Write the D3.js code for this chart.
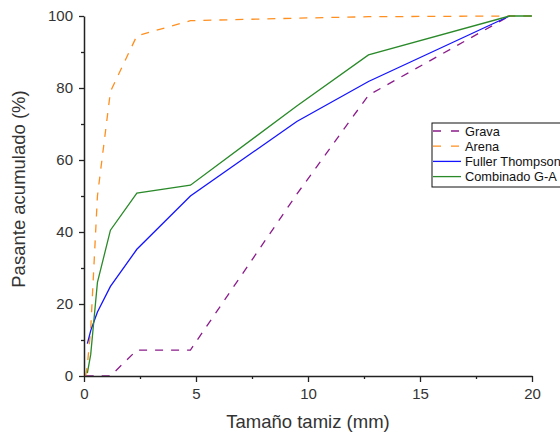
<!DOCTYPE html>
<html>
<head>
<meta charset="utf-8">
<script src="https://cdn.jsdelivr.net/npm/d3@7"></script>
<style>
  html, body { margin: 0; padding: 0; background: #fff; }
  svg { display: block; font-family: "Liberation Sans", Arial, sans-serif; }
</style>
</head>
<body>
<svg id="chart" width="560" height="434"></svg>
<script>
// ---- data ----
const seriesNames = ["Grava", "Arena", "Fuller Thompson", "Combinado G-A"];
const gravaX   = [0.075, 0.15, 0.3, 0.6, 1.18, 2.36, 4.75, 9.5, 12.7, 19];
const gravaY   = [0, 0, 0, 0, 0, 7.2, 7.2, 50.5, 78, 100];
const arenaX   = [0.075, 0.15, 0.3, 0.6, 1.18, 2.36, 4.75, 9.5, 12.7, 19, 20];
const arenaY   = [0, 3, 13, 50, 79, 94.5, 98.7, 99.4, 99.8, 100, 100];
const fullerX  = [0.15, 0.3, 0.6, 1.18, 2.36, 4.75, 9.5, 12.7, 19];
const fullerY  = [9, 12.6, 17.8, 24.9, 35.2, 50, 70.7, 81.8, 100];
const combX    = [0.15, 0.3, 0.6, 1.18, 2.36, 4.75, 9.5, 12.7, 19, 20];
const combY    = [0.8, 6, 26, 40.5, 50.8, 53, 75, 89.2, 100, 100];
const xMajorTicks = [0, 5, 10, 15, 20];
const xMinorTicks = [2.5, 7.5, 12.5, 17.5];
const yMajorTicks = [0, 20, 40, 60, 80, 100];
const yMinorTicks = [10, 30, 50, 70, 90];

const colors = ["#8B1C8B", "#FF8F1F", "#1414FF", "#2A8A2A"];
const dashes = ["8,8", "8,8", null, null];

// ---- layout ----
const svg = d3.select("#chart");
const pLeft = 84, pRight = 532, pTop = 16, pBottom = 376;
const x = d3.scaleLinear().domain([0, 20]).range([pLeft, pRight]);
const y = d3.scaleLinear().domain([0, 100]).range([pBottom, pTop]);

const series = [
  gravaX.map((v, i) => [v, gravaY[i]]),
  arenaX.map((v, i) => [v, arenaY[i]]),
  fullerX.map((v, i) => [v, fullerY[i]]),
  combX.map((v, i) => [v, combY[i]])
];

const line = d3.line().x(d => x(d[0])).y(d => y(d[1]));

[0, 1, 2, 3].forEach(i => {
  svg.append("path")
    .datum(series[i])
    .attr("d", line)
    .attr("fill", "none")
    .attr("stroke", colors[i])
    .attr("stroke-width", 1.3)
    .attr("stroke-dasharray", dashes[i]);
});

function styleAxis(g) {
  g.selectAll(".domain").attr("stroke", "#222").attr("stroke-width", 1.5);
  g.selectAll(".tick line").attr("stroke", "#222").attr("stroke-width", 1.3);
  g.selectAll("text").attr("fill", "#333").style("font-size", "15px")
    .style("font-family", "'Liberation Sans', Arial, sans-serif");
}

const xMinor = svg.append("g").attr("transform", `translate(0,${pBottom})`)
  .call(d3.axisBottom(x).tickValues(xMinorTicks).tickSize(3).tickFormat(""));
xMinor.select(".domain").remove();
xMinor.selectAll(".tick line").attr("stroke", "#222").attr("stroke-width", 1.3);

const xAxis = svg.append("g").attr("transform", `translate(0,${pBottom})`)
  .call(d3.axisBottom(x).tickValues(xMajorTicks).tickSize(6).tickSizeOuter(0).tickPadding(6).tickFormat(d3.format("d")));
styleAxis(xAxis);

const yMinor = svg.append("g").attr("transform", `translate(${pLeft},0)`)
  .call(d3.axisLeft(y).tickValues(yMinorTicks).tickSize(3).tickFormat(""));
yMinor.select(".domain").remove();
yMinor.selectAll(".tick line").attr("stroke", "#222").attr("stroke-width", 1.3);

const yAxis = svg.append("g").attr("transform", `translate(${pLeft},0)`)
  .call(d3.axisLeft(y).tickValues(yMajorTicks).tickSize(5).tickSizeOuter(0).tickPadding(6).tickFormat(d3.format("d")));
styleAxis(yAxis);

svg.append("text")
  .attr("x", (pLeft + pRight) / 2).attr("y", 428)
  .attr("text-anchor", "middle")
  .attr("fill", "#333")
  .style("font-size", "18.5px")
  .text("Tamaño tamiz (mm)");

svg.append("text")
  .attr("transform", `translate(25,189) rotate(-90)`)
  .attr("text-anchor", "middle")
  .attr("fill", "#333")
  .style("font-size", "18.5px")
  .text("Pasante acumulado (%)");

const lg = svg.append("g");
lg.append("rect")
  .attr("x", 432).attr("y", 123).attr("width", 140).attr("height", 64)
  .attr("fill", "#fff").attr("stroke", "#111").attr("stroke-width", 1);
seriesNames.forEach((name, i) => {
  const ry = 131 + i * 15.2;
  lg.append("line")
    .attr("x1", 433).attr("x2", 461).attr("y1", ry).attr("y2", ry)
    .attr("stroke", colors[i]).attr("stroke-width", 1.3)
    .attr("stroke-dasharray", dashes[i] ? "8,10" : null);
  lg.append("text")
    .attr("x", 465).attr("y", ry + 4.5)
    .attr("fill", "#111")
    .style("font-size", "12.8px")
    .text(name);
});
</script>
</body>
</html>
